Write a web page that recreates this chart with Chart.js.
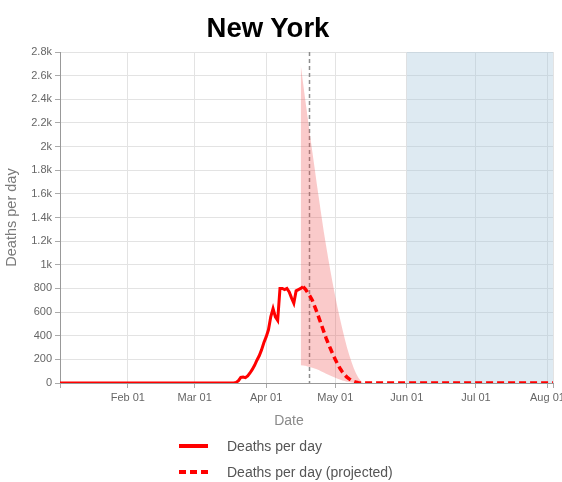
<!DOCTYPE html>
<html>
<head>
<meta charset="utf-8">
<title>New York</title>
<script src="https://cdn.jsdelivr.net/npm/chart.js@4.4.1/dist/chart.umd.min.js"></script>
<style>
  body { margin: 0; background: #fff; font-family: "Liberation Sans", Arial, sans-serif; }
  #wrap { position: relative; width: 562px; height: 482px; }
  #chart { position: absolute; left: 0; top: 0; }
  #titulo { position: absolute; left: 0; top: 14px; width: 536px; text-align: center;
            font-weight: bold; font-size: 27.5px; line-height: 27.5px; color: #000; }
  #xTitulo { position: absolute; left: 239px; width: 100px; top: 412px; text-align: center;
             font-size: 14px; line-height: 16px; color: #8a8a8a; }
  .leyenda { position: absolute; left: 179px; height: 16px; font-size: 14px; line-height: 16px; color: #555; }
  .leyenda .muestra { position: absolute; left: 0; top: 6px; width: 29px; height: 4px; }
  .leyenda span { position: absolute; left: 48px; white-space: nowrap; }
</style>
</head>
<body>
<div id="wrap">
  <canvas id="chart" width="562" height="482"></canvas>
  <div id="titulo">New York</div>
  <div id="xTitulo">Date</div>
  <div class="leyenda" style="top:438px">
    <div class="muestra" style="background:#f00"></div><span>Deaths per day</span>
  </div>
  <div class="leyenda" style="top:464px">
    <div class="muestra" style="background:repeating-linear-gradient(to right,#f00 0 7px,transparent 7px 11px)"></div><span>Deaths per day (projected)</span>
  </div>
</div>
<script>
// Datos (fechas MM-DD de 2020)
const actualDates = ['01-02',
  '03-17','03-18','03-19','03-20','03-21','03-22','03-23','03-24','03-25','03-26',
  '03-27','03-28','03-29','03-30','03-31',
  '04-01','04-02','04-03','04-04','04-05','04-06','04-07','04-08','04-09','04-10',
  '04-11','04-12','04-13','04-14','04-15','04-16','04-17'];
const actualDeaths = [0,
  0, 0, 5, 20, 48, 50, 45, 60, 85, 115,
  150, 193, 230, 280, 340,
  390, 450, 560, 630, 560, 530, 800, 800, 790, 800,
  770, 720, 675, 780, 790, 800, 815];

const projDates = ['04-17','04-18','04-19','04-20','04-21','04-22','04-23','04-24','04-25','04-26',
  '04-27','04-28','04-29','04-30','05-01','05-02','05-03','05-04','05-05','05-06',
  '05-07','05-08','05-09','05-10','05-11','05-12','08-04'];
const projDeaths = [815, 795, 765, 735, 700, 650, 600, 545, 490, 435,
  380, 330, 285, 240, 198, 160, 125, 95, 70, 50,
  35, 22, 13, 6, 2, 0, 0];

const bandDates = ['04-16','04-17','04-18','04-19','04-20','04-21','04-22','04-23','04-24','04-25',
  '04-26','04-27','04-28','04-29','04-30','05-01','05-02','05-03','05-04','05-05',
  '05-06','05-07','05-08','05-09','05-10','05-11','05-12','05-13'];
const bandUpper = [2690, 2540, 2390, 2245, 2100, 1960, 1820, 1680, 1545, 1410,
  1280, 1160, 1045, 935, 830, 730, 635, 545, 460, 380,
  305, 240, 180, 125, 80, 45, 18, 0];
const bandLower = [150, 148, 145, 140, 136, 130, 122, 116, 108, 98,
  88, 78, 70, 62, 52, 44, 36, 29, 22, 16,
  11, 8, 5, 3, 1, 0, 0, 0];

const monthTicks = ['02-01','03-01','04-01','05-01','06-01','07-01','08-01'];
const monthLabels = ['Feb 01','Mar 01','Apr 01','May 01','Jun 01','Jul 01','Aug 01'];
const xRange = [1.6, 215.4];      // dias desde 1 ene
const todayDate = '04-19';        // linea vertical punteada (mediodia)
const shadeStart = '06-01';       // zona azul

// Helpers
function dayOf(md) {
  const [m, d] = md.split('-').map(Number);
  return (Date.UTC(2020, m - 1, d) - Date.UTC(2020, 0, 1)) / 86400000;
}
function puntos(fechas, valores) {
  return fechas.map((f, i) => ({ x: dayOf(f), y: valores[i] }));
}
const monthDays = monthTicks.map(dayOf);
const rojo = '#f00';

const fondoPlugin = {
  id: 'fondo',
  beforeDatasetsDraw(chart) {
    const { ctx, chartArea: a, scales: { x } } = chart;
    ctx.save();
    const xs = x.getPixelForValue(dayOf(shadeStart));
    ctx.fillStyle = 'rgba(160,195,218,0.35)';
    ctx.fillRect(xs, a.top, a.right - xs, a.bottom - a.top);
    const xt = Math.round(x.getPixelForValue(dayOf(todayDate) + 0.5)) + 0.5;
    ctx.strokeStyle = '#8c8c8c';
    ctx.lineWidth = 1.5;
    ctx.setLineDash([4, 3]);
    ctx.beginPath();
    ctx.moveTo(xt, a.top);
    ctx.lineTo(xt, a.bottom);
    ctx.stroke();
    ctx.restore();
  }
};

Chart.defaults.font.family = '"Liberation Sans", Arial, sans-serif';

const grafica = new Chart(document.getElementById('chart').getContext('2d'), {
  type: 'line',
  data: {
    datasets: [
      {
        label: 'Deaths per day',
        data: puntos(actualDates, actualDeaths),
        borderColor: rojo, borderWidth: 3, pointRadius: 0, tension: 0, fill: false
      },
      {
        label: 'Deaths per day (projected)',
        data: puntos(projDates, projDeaths),
        borderColor: rojo, borderWidth: 3.5, borderDash: [7, 4], pointRadius: 0, tension: 0, fill: false
      },
      {
        label: 'upper',
        data: puntos(bandDates, bandUpper),
        borderWidth: 0, pointRadius: 0, tension: 0,
        backgroundColor: 'rgba(240,80,80,0.3)', fill: '+1'
      },
      {
        label: 'lower',
        data: puntos(bandDates, bandLower),
        borderWidth: 0, pointRadius: 0, tension: 0, fill: false
      }
    ]
  },
  options: {
    responsive: false,
    animation: false,
    layout: { padding: { left: 0, top: 52, right: 9, bottom: 69 } },
    plugins: { legend: { display: false }, tooltip: { enabled: false } },
    scales: {
      x: {
        type: 'linear',
        min: xRange[0],
        max: xRange[1],
        afterBuildTicks: s => { s.ticks = [xRange[0], ...monthDays, xRange[1]].map(v => ({ value: v })); },
        afterFit: s => { s.height = 30; },
        ticks: {
          autoSkip: false, maxRotation: 0, padding: 3, color: '#666', font: { size: 11 },
          callback: v => { const i = monthDays.indexOf(v); return i >= 0 ? monthLabels[i] : ''; }
        },
        grid: { color: '#e3e3e3', tickColor: '#aaa', tickLength: 5 },
        border: { color: '#999' }
      },
      y: {
        min: 0,
        max: 2800,
        afterFit: s => { s.width = 60; },
        ticks: {
          stepSize: 200, padding: 3, color: '#666', font: { size: 11 },
          callback: v => v >= 1000 ? (v / 1000) + 'k' : v
        },
        grid: { color: '#e3e3e3', tickColor: '#aaa', tickLength: 5 },
        border: { color: '#999' },
        title: {
          display: true, text: 'Deaths per day', color: '#7a7a7a',
          font: { size: 14.5 }, padding: { top: 3, bottom: 0 }
        }
      }
    }
  },
  plugins: [fondoPlugin]
});
</script>
</body>
</html>
